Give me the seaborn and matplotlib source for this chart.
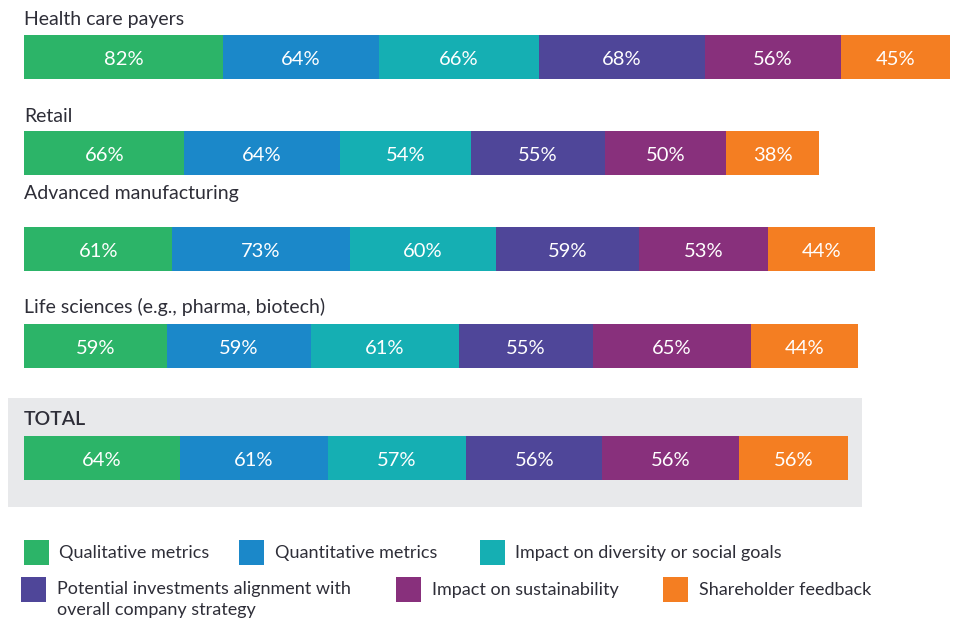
import matplotlib
matplotlib.use("Agg")
import matplotlib.pyplot as plt
from matplotlib.patches import Rectangle
import numpy as np
import pandas as pd
import seaborn as sns

# ---------------- data ----------------
categories = ["Health care payers", "Retail", "Advanced manufacturing",
              "Life sciences (e.g., pharma, biotech)", "TOTAL"]
series = ["Qualitative metrics", "Quantitative metrics",
          "Impact on diversity or social goals",
          "Potential investments alignment with\noverall company strategy",
          "Impact on sustainability", "Shareholder feedback"]
health_care = [82, 64, 66, 68, 56, 45]
retail = [66, 64, 54, 55, 50, 38]
advanced_mfg = [61, 73, 60, 59, 53, 44]
life_sciences = [59, 59, 61, 55, 65, 44]
total = [64, 61, 57, 56, 56, 45]          # bar lengths as drawn
total_labels = ["64%", "61%", "57%", "56%", "56%", "56%"]  # printed labels
colors = ["#2CB468", "#1B88C9", "#15AFB3", "#4F4699", "#88307C", "#F47E22"]

rows = [health_care, retail, advanced_mfg, life_sciences, total]
row_labels = [[f"{v}%" for v in health_care], [f"{v}%" for v in retail],
              [f"{v}%" for v in advanced_mfg], [f"{v}%" for v in life_sciences],
              total_labels]

# ---------------- layout (pixels) ----------------
W, H = 955, 623
bar_tops = [35, 131, 227, 324, 436]
bar_h = 44
title_baselines = [25, 122, 199, 313, 425]
x0, xw = 24, 926
xmax = 381
TXT = "#2E2E38"

sns.set_theme(style="white")
plt.rcParams["font.family"] = ["Lato", "DejaVu Sans"]

fig = plt.figure(figsize=(W / 100, H / 100), dpi=100)
fig.patch.set_facecolor("white")

def fx(px):
    return px / W

def fy(py):
    return 1 - py / H

# gray TOTAL box (behind everything)
fig.patches.append(Rectangle((fx(8), fy(507)), fx(862) - fx(8), (507 - 398) / H,
                             transform=fig.transFigure, facecolor="#E8E9EB",
                             edgecolor="none", zorder=-10))

for i, (cat, vals, labs) in enumerate(zip(categories, rows, row_labels)):
    ax = fig.add_axes([fx(x0), fy(bar_tops[i] + bar_h), xw / W, bar_h / H])
    ax.set_zorder(5)
    cum = np.cumsum(vals)
    for k in range(len(vals) - 1, -1, -1):
        df = pd.DataFrame({"value": [cum[k]], "cat": [cat]})
        sns.barplot(data=df, x="value", y="cat", orient="h", color=colors[k],
                    saturation=1, width=1, linewidth=0, edgecolor="none", ax=ax)
    starts = cum - np.array(vals)
    for k in range(len(vals)):
        ax.text(starts[k] + vals[k] / 2, 0.06, labs[k], color="white",
                ha="center", va="center", fontsize=14.5)
    ax.set_xlim(0, xmax)
    ax.set_ylim(0.5, -0.5)
    ax.axis("off")
    fig.text(fx(x0), fy(title_baselines[i]), cat, color=TXT, fontsize=14,
             ha="left", va="baseline",
             fontweight="semibold" if cat == "TOTAL" else "normal")

# legend
legend_items = [
    (24, 540, 59, 0), (239, 540, 275, 1), (480, 540, 515, 2),
    (21, 577, 57, 3), (396, 577, 432, 4), (663, 577, 699, 5),
]
for sx, sy, tx, k in legend_items:
    fig.patches.append(Rectangle((fx(sx), fy(sy + 25)), 25 / W, 25 / H,
                                 transform=fig.transFigure,
                                 facecolor=colors[k], edgecolor="none"))
    if "\n" in series[k]:
        fig.text(fx(tx), fy(sy + 4), series[k], color=TXT, fontsize=13,
                 ha="left", va="top", linespacing=1.4)
    else:
        fig.text(fx(tx), fy(sy + 13), series[k], color=TXT, fontsize=13,
                 ha="left", va="center")

fig.savefig("out.png", dpi=100, facecolor="white")
